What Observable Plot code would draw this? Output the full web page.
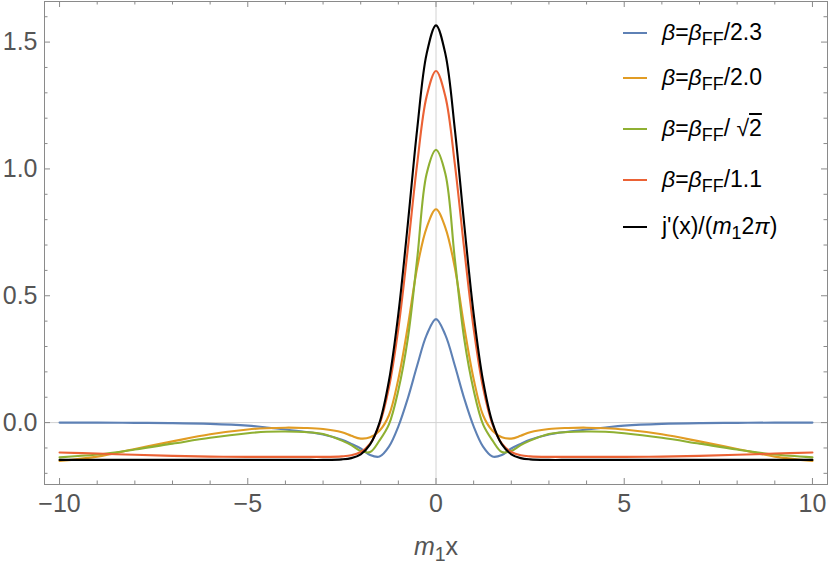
<!DOCTYPE html>
<html>
<head>
<meta charset="utf-8">
<script src="https://cdn.jsdelivr.net/npm/d3@7"></script>
<script src="https://cdn.jsdelivr.net/npm/@observablehq/plot@0.6"></script>
<style>
  body { margin: 0; background: #fff; }
  #wrap { position: relative; width: 830px; height: 564px; font-family: "Liberation Sans", Arial, sans-serif; }
  #wrap svg { position: absolute; left: 0; top: 0; }
  .leg { position: absolute; left: 623px; height: 28px; line-height: 28px; font-size: 23px; color: #000; white-space: nowrap; }
  .leg .sw { display: inline-block; width: 24px; height: 2px; vertical-align: middle; margin-right: 15px; position: relative; top: -1px; }
  .sb { font-size: 0.78em; position: relative; top: 0.3em; }
  .it { font-style: italic; }
  .ov { text-decoration: overline; }
  #xlab { position: absolute; left: 0; width: 872px; top: 532px; text-align: center; font-size: 25px; color: #555; }
</style>
</head>
<body>
<div id="wrap"></div>
<script>
// Sample positions (m1 x)
const xs = [-10,-9,-8,-7,-6,-5,-4.5,-4,-3.5,-3,-2.5,-2.25,-2,-1.75,-1.5,-1.25,-1,-0.75,-0.5,-0.25,
            0,
            0.25,0.5,0.75,1,1.25,1.5,1.75,2,2.25,2.5,3,3.5,4,4.5,5,6,7,8,9,10];

// beta = beta_FF / 2.3
const blueY = [0.000,0.000,-0.001,-0.002,-0.005,-0.012,-0.019,-0.027,-0.036,-0.047,-0.068,-0.084,-0.102,-0.128,-0.134,-0.095,-0.015,0.095,0.225,0.345,
               0.408,
               0.345,0.225,0.095,-0.015,-0.095,-0.134,-0.128,-0.102,-0.084,-0.068,-0.047,-0.036,-0.027,-0.019,-0.012,-0.005,-0.002,-0.001,0.000,0.000];
// beta = beta_FF / 2.0
const orangeY = [-0.151,-0.134,-0.104,-0.074,-0.046,-0.027,-0.022,-0.020,-0.021,-0.025,-0.038,-0.052,-0.063,-0.058,-0.032,0.029,0.172,0.378,0.611,0.768,
                 0.841,
                 0.768,0.611,0.378,0.172,0.029,-0.032,-0.058,-0.063,-0.052,-0.038,-0.025,-0.021,-0.020,-0.022,-0.027,-0.046,-0.074,-0.104,-0.134,-0.151];
// beta = beta_FF / sqrt(2)
const greenY = [-0.137,-0.126,-0.106,-0.083,-0.060,-0.042,-0.036,-0.035,-0.037,-0.045,-0.071,-0.089,-0.112,-0.116,-0.070,-0.007,0.128,0.330,0.645,0.980,
                1.075,
                0.980,0.645,0.330,0.128,-0.007,-0.070,-0.116,-0.112,-0.089,-0.071,-0.045,-0.037,-0.035,-0.036,-0.042,-0.060,-0.083,-0.106,-0.126,-0.137];
// beta = beta_FF / 1.1
const redY = [-0.118,-0.122,-0.127,-0.131,-0.134,-0.135,-0.135,-0.135,-0.135,-0.135,-0.133,-0.129,-0.116,-0.083,-0.007,0.138,0.371,0.684,1.020,1.285,
              1.386,
              1.285,1.020,0.684,0.371,0.138,-0.007,-0.083,-0.116,-0.129,-0.133,-0.135,-0.135,-0.135,-0.135,-0.135,-0.134,-0.131,-0.127,-0.122,-0.118];
// j'(x)/(m1 2 pi)
const blackY = [-0.147,-0.147,-0.147,-0.147,-0.147,-0.147,-0.147,-0.147,-0.147,-0.147,-0.145,-0.140,-0.125,-0.086,0.000,0.165,0.429,0.781,1.157,1.453,
                1.566,
                1.453,1.157,0.781,0.429,0.165,0.000,-0.086,-0.125,-0.140,-0.145,-0.147,-0.147,-0.147,-0.147,-0.147,-0.147,-0.147,-0.147,-0.147,-0.147];

const seriesColors = ["#5E81B5", "#E19C24", "#8FB032", "#EB6235", "#000000"];
const seriesValues = [blueY, orangeY, greenY, redY, blackY];

// Tick values
const xMajor = [-10, -5, 0, 5, 10];
const xMinor = [-9,-8,-7,-6,-4,-3,-2,-1,1,2,3,4,6,7,8,9];
const yMajor = [0, 0.5, 1, 1.5];
const yMinor = [-0.2,-0.1,0.1,0.2,0.3,0.4,0.6,0.7,0.8,0.9,1.1,1.2,1.3,1.4,1.6];

const W = 830, H = 564, mL = 44, mR = 3, mT = 1, mB = 80;
const pw = W - mL - mR, ph = H - mT - mB;
const frameColor = "#8a8a8a";

const lineMarks = seriesValues.map((vals, i) =>
  Plot.line(xs.map((x, j) => ({x, y: vals[j]})), {
    x: "x", y: "y", stroke: seriesColors[i], strokeWidth: 2.1, curve: "catmull-rom"
  })
);

const tickMarks = [
  Plot.tickX(xMajor, {x: d => d, insetTop: ph - 6, stroke: frameColor}),
  Plot.tickX(xMinor, {x: d => d, insetTop: ph - 3.5, stroke: frameColor}),
  Plot.tickX(xMajor, {x: d => d, insetBottom: ph - 6, stroke: frameColor}),
  Plot.tickX(xMinor, {x: d => d, insetBottom: ph - 3.5, stroke: frameColor}),
  Plot.tickY(yMajor, {y: d => d, insetRight: pw - 6, stroke: frameColor}),
  Plot.tickY(yMinor, {y: d => d, insetRight: pw - 3.5, stroke: frameColor}),
  Plot.tickY(yMajor, {y: d => d, insetLeft: pw - 6, stroke: frameColor}),
  Plot.tickY(yMinor, {y: d => d, insetLeft: pw - 3.5, stroke: frameColor})
];

const chart = Plot.plot({
  width: W, height: H,
  marginLeft: mL, marginRight: mR, marginTop: mT, marginBottom: mB,
  x: {domain: [-10.4, 10.4]},
  y: {domain: [-0.244, 1.66]},
  style: {fontFamily: "'Liberation Sans', Arial, sans-serif", background: "transparent"},
  marks: [
    Plot.ruleX([0], {stroke: "#d2d2d2", strokeWidth: 1}),
    Plot.ruleY([0], {stroke: "#d2d2d2", strokeWidth: 1}),
    ...lineMarks,
    Plot.frame({stroke: frameColor}),
    ...tickMarks,
    Plot.axisX({ticks: xMajor, tickSize: 0, tickPadding: 10, fontSize: 25, fill: "#555",
                tickFormat: d => d < 0 ? "\u2212" + (-d) : String(d), label: null}),
    Plot.axisY({ticks: yMajor, tickSize: 0, tickPadding: 7, fontSize: 25, fill: "#555",
                tickFormat: d3.format(".1f"), label: null})
  ]
});

const wrap = document.getElementById("wrap");
wrap.appendChild(chart);

// Legend
const legendItems = [
  {top: 32, html: '<span class="it">β</span>=<span class="it">β</span><span class="sb">FF</span>/2.3'},
  {top: 77, html: '<span class="it">β</span>=<span class="it">β</span><span class="sb">FF</span>/2.0'},
  {top: 128, html: '<span class="it">β</span>=<span class="it">β</span><span class="sb">FF</span>/ √<span class="ov">2</span>'},
  {top: 179, html: '<span class="it">β</span>=<span class="it">β</span><span class="sb">FF</span>/1.1'},
  {top: 226, html: "j'(x)/(<span class=\"it\">m</span><span class=\"sb\">1</span>2<span class=\"it\">π</span>)"}
];
legendItems.forEach((it, i) => {
  const d = document.createElement("div");
  d.className = "leg";
  d.style.top = (it.top - 14) + "px";
  d.innerHTML = '<span class="sw" style="background:' + seriesColors[i] + '"></span>' + it.html;
  wrap.appendChild(d);
});

const xl = document.createElement("div");
xl.id = "xlab";
xl.innerHTML = '<span class="it">m</span><span class="sb">1</span>x';
wrap.appendChild(xl);
</script>
</body>
</html>
